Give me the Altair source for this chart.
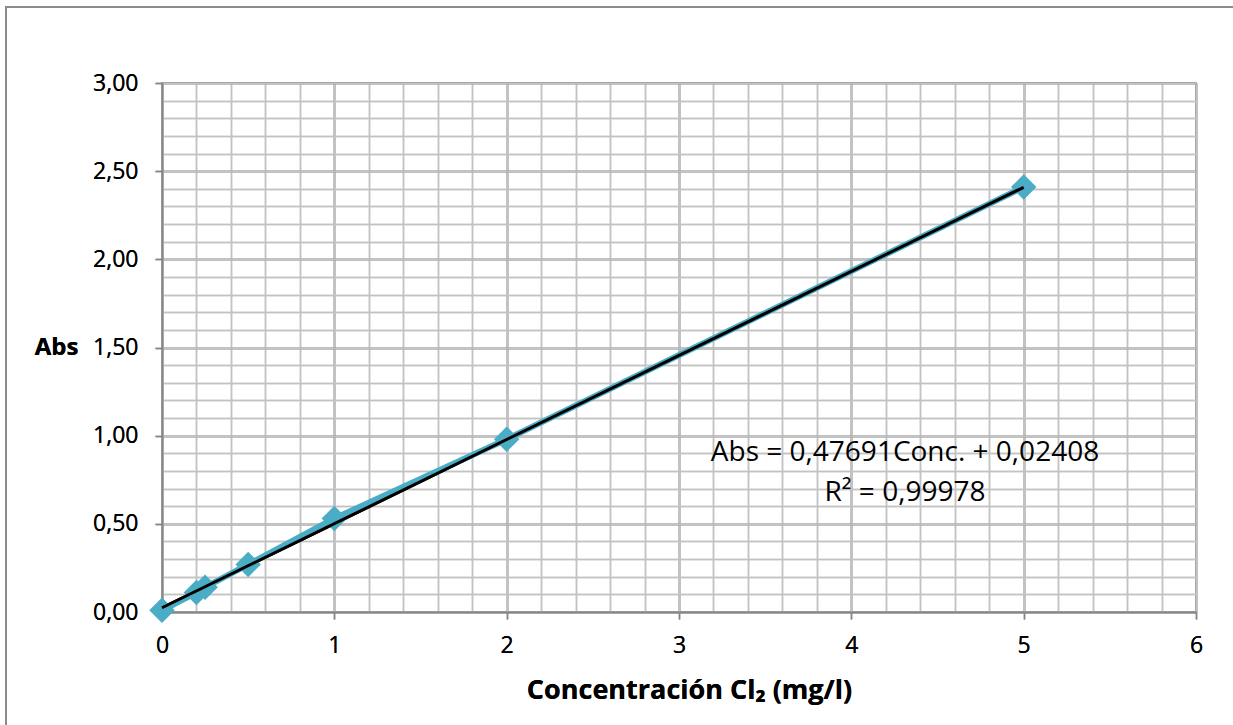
import altair as alt
import pandas as pd

# Calibration standards: chlorine concentration (mg/l) and measured absorbance
conc = [0, 0.2, 0.25, 0.5, 1, 2, 5]
absorbance = [0.01, 0.11, 0.14, 0.27, 0.53, 0.98, 2.41]

# Linear least-squares fit reported on the chart
slope = 0.47691
intercept = 0.02408
r_squared = 0.99978
fit_range = [0, 5]

# Axis tick / grid positions
x_major = [0, 1, 2, 3, 4, 5, 6]
x_minor = [0, 0.2, 0.4, 0.6, 0.8, 1, 1.2, 1.4, 1.6, 1.8, 2, 2.2, 2.4, 2.6, 2.8, 3,
           3.2, 3.4, 3.6, 3.8, 4, 4.2, 4.4, 4.6, 4.8, 5, 5.2, 5.4, 5.6, 5.8, 6]
y_major = [0, 0.5, 1, 1.5, 2, 2.5, 3]
y_minor = [0, 0.1, 0.2, 0.3, 0.4, 0.5, 0.6, 0.7, 0.8, 0.9, 1, 1.1, 1.2, 1.3, 1.4, 1.5,
           1.6, 1.7, 1.8, 1.9, 2, 2.1, 2.2, 2.3, 2.4, 2.5, 2.6, 2.7, 2.8, 2.9, 3]

FONT = "Open Sans"
MAJOR = "#868686"
MINOR = "#c3c3c3"
SERIES = "#4BACC6"

points = pd.DataFrame({"conc": conc, "abs": absorbance})
fit = pd.DataFrame({"conc": fit_range})

x_scale = alt.Scale(domain=[0, 6], nice=False, zero=False)
y_scale = alt.Scale(domain=[0, 3], nice=False, zero=False)


def comma(v, digits):
    return f"{v:.{digits}f}".replace(".", ",")


eq_lines = [
    f"Abs = {comma(slope, 5)}Conc. + {comma(intercept, 5)}",
    f"R² = {comma(r_squared, 5)}",
]

# Minor grid carried by the trend-line layer
trend = alt.Chart(fit).transform_calculate(
    fitted=f"{slope} * datum.conc + {intercept}"
).mark_line(color="black", strokeWidth=3).encode(
    x=alt.X("conc:Q", scale=x_scale,
            axis=alt.Axis(values=x_minor, grid=True, gridColor=MINOR, gridWidth=1.5,
                          labels=False, ticks=False, domain=False, title=None,
                          orient="bottom")),
    y=alt.Y("fitted:Q", scale=y_scale,
            axis=alt.Axis(values=y_minor, grid=True, gridColor=MINOR, gridWidth=1.5,
                          labels=False, ticks=False, domain=False, title=None,
                          orient="left")),
)

# Measured series with major grid, ticks and labels
series_base = alt.Chart(points).encode(
    x=alt.X("conc:Q", scale=x_scale,
            axis=alt.Axis(values=x_major, grid=True, gridColor=MAJOR, gridWidth=1.5,
                          domain=True, domainColor=MAJOR, domainWidth=1.5,
                          ticks=True, tickColor=MAJOR, tickSize=7, tickWidth=1.5,
                          labelFont=FONT, labelFontSize=23, labelColor="black",
                          labelPadding=15, labelFlush=False,
                          labelExpr="format(datum.value, 'd')",
                          title="Concentración Cl₂ (mg/l)", titleFont=FONT,
                          titleFontSize=27, titleFontWeight="bold", titleColor="black",
                          titleBaseline="middle", titleAlign="center",
                          titleX=527, titleY=78, orient="bottom")),
    y=alt.Y("abs:Q", scale=y_scale,
            axis=alt.Axis(values=y_major, grid=True, gridColor=MAJOR, gridWidth=1.5,
                          domain=True, domainColor=MAJOR, domainWidth=1.5,
                          ticks=True, tickColor=MAJOR, tickSize=7, tickWidth=1.5,
                          labelFont=FONT, labelFontSize=23, labelColor="black",
                          labelPadding=17, labelFlush=False,
                          labelExpr="replace(format(datum.value, '.2f'), '.', ',')",
                          title="Abs", titleFont=FONT, titleFontSize=24,
                          titleFontWeight="bold", titleColor="black", titleAngle=0,
                          titleAlign="center", titleBaseline="middle",
                          titleX=-106, titleY=264, orient="left")),
)

series_line = series_base.mark_line(color=SERIES, strokeWidth=6)
series_pts = series_base.mark_point(shape="diamond", filled=True, size=650,
                                    color=SERIES, opacity=1)

equation = alt.Chart(pd.DataFrame({"t": [0]})).mark_text(
    font=FONT, fontSize=28, color="black", align="center", baseline="middle",
    lineHeight=40,
).encode(
    x=alt.value(743), y=alt.value(370), text=alt.value(eq_lines)
)

frame = alt.Chart(pd.DataFrame({"t": [0]})).mark_rect(
    filled=False, stroke="#8c8c8c", strokeWidth=2
).encode(
    x=alt.value(-156), y=alt.value(-76), x2=alt.value(1100), y2=alt.value(700)
)

chart = alt.layer(
    trend, series_line, series_pts, trend, equation, frame
).resolve_axis(x="independent", y="independent").properties(
    width=1034, height=529,
    autosize=alt.AutoSizeParams(type="none"),
    padding={"left": 162, "top": 83, "right": 37, "bottom": 113},
    background="white",
).configure_view(stroke=MAJOR, strokeWidth=1.5)

chart.save("out.html", embed_options={"renderer": "svg", "actions": False})
